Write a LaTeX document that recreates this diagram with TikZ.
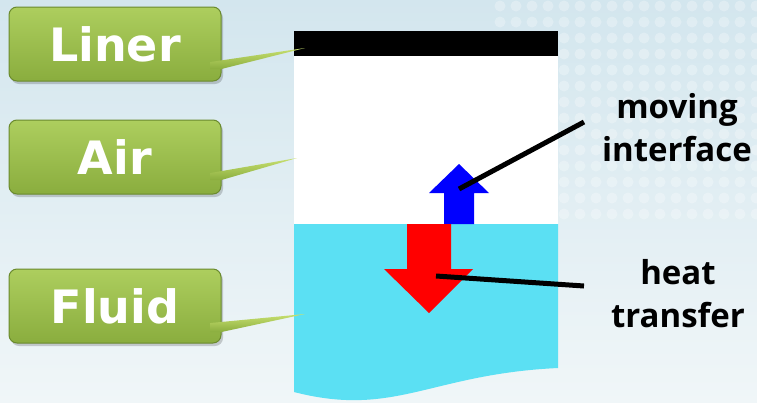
\documentclass[tikz,border=0pt]{standalone}
\usepackage{fontspec}
\setmainfont{DejaVu Sans}
\newfontfamily\labfont{DejaVu Sans}
\newfontfamily\txtfont{Open Sans}
\usetikzlibrary{calc}
\definecolor{bgtop}{HTML}{D3E6EE}
\definecolor{bgbot}{HTML}{F0F6F8}
\definecolor{gtop}{HTML}{ADCE5E}
\definecolor{gbot}{HTML}{8AAD3E}
\definecolor{gedge}{HTML}{6A8A2E}
\definecolor{tailtop}{HTML}{C8E070}
\definecolor{fluidc}{HTML}{5BE0F3}
\tikzset{
  greenbox/.style={rounded corners=8pt, top color=gtop, bottom color=gbot, draw=gedge, line width=1pt,
    minimum width=212pt, minimum height=74pt, text=white, font=\labfont\bfseries\fontsize{46}{50}\selectfont},
  tail/.style={top color=tailtop, bottom color=gbot, draw=none},
  sidetext/.style={align=center, font=\txtfont\bfseries\fontsize{33}{43}\selectfont, text=black},
  pointer/.style={line width=5pt, draw=black}
}
\begin{document}
\begin{tikzpicture}[x=1pt,y=-1pt]
\useasboundingbox (0,0) rectangle (757,402);
\shade[top color=bgtop, bottom color=bgbot] (0,0) rectangle (757,402);
% faint dots
\foreach \i in {0,...,16} {
  \foreach \j in {0,...,13} {
    \pgfmathsetmacro{\xx}{500+16*\i}
    \pgfmathsetmacro{\yy}{6+16*\j}
    \fill[white, opacity=0.28] (\xx,\yy) circle (5.5pt);
  }
}
% column
\fill[fluidc] (294,224) -- (558,224) -- (558,368) .. controls (430,374) and (395,418) .. (294,392) -- cycle;
\fill[white] (294,56) rectangle (558,224);
\fill[black] (294,31) rectangle (558,56);
% arrows
\fill[blue] (444,224) -- (444,193) -- (429,193) -- (459,164) -- (489,193) -- (474,193) -- (474,224) -- cycle;
\fill[red] (407,224) -- (407,269) -- (384,269) -- (429,313) -- (473,269) -- (451,269) -- (451,224) -- cycle;
% labels
\foreach \n/\t/\y in {lb/Liner/44, ab/Air/157, fb/Fluid/306} {
  \fill[black, opacity=0.18, rounded corners=8pt] (11,\y-34) rectangle (223,\y+40);
  \node[greenbox] (\n) at (115,\y) {\t};
}
\coordinate (lt) at (305,48);
\coordinate (at) at (297,158);
\coordinate (ft) at (305,314);
\shade[tail] ($(lb.east)+(-11,18)$) -- (lt) -- ($(lb.east)+(0,25)$) -- ($(lb.east)+(-11,25)$) -- cycle;
\shade[tail] ($(ab.east)+(-11,16)$) -- (at) -- ($(ab.east)+(0,23)$) -- ($(ab.east)+(-11,23)$) -- cycle;
\shade[tail] ($(fb.east)+(-11,17)$) -- (ft) -- ($(fb.east)+(0,26)$) -- ($(fb.east)+(-11,26)$) -- cycle;
% side texts
\node[sidetext] (mi) at (677,128) {moving\\interface};
\node[sidetext] (ht) at (678,294) {heat\\transfer};
\coordinate (miend) at (584,122);
\coordinate (bluept) at (459,189);
\coordinate (htend) at (584,286);
\coordinate (redpt) at (436,276);
\draw[pointer] (miend) -- (bluept);
\draw[pointer] (htend) -- (redpt);
\end{tikzpicture}
\end{document}
